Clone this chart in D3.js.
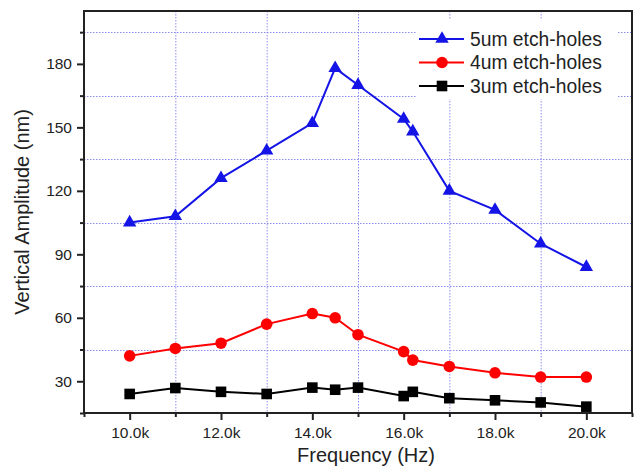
<!DOCTYPE html>
<html>
<head>
<meta charset="utf-8">
<script src="https://cdn.jsdelivr.net/npm/d3@7"></script>
<style>
  body { margin: 0; background: #fff; }
  text { font-family: "Liberation Sans", Arial, sans-serif; fill: #222; }
</style>
</head>
<body>
<div id="chart"></div>
<script>
// chart data
var freq = [10000, 11000, 12000, 13000, 14000, 14500, 15000, 16000, 16200, 17000, 18000, 19000, 20000];
var amp5 = [105, 108, 126, 139, 152, 178, 170, 154, 148, 120, 111, 95, 84];
var amp4 = [42, 45.5, 48, 57, 62, 60, 52, 44, 40, 37, 34, 32, 32];
var amp3 = [24, 26.8, 25, 24, 27, 26, 27, 23, 25, 22, 21, 20, 18];
var seriesNames = ["5um etch-holes", "4um etch-holes", "3um etch-holes"];
var xMajor = [10000, 12000, 14000, 16000, 18000, 20000];
var xMinor = [9000, 11000, 13000, 15000, 17000, 19000, 21000];
var yMajor = [30, 60, 90, 120, 150, 180];
var yMinor = [15, 45, 75, 105, 135, 165, 195];

// svg and margins
var svgWidth = 634;
var svgHeight = 470;
var margin = { top: 11, right: 2, bottom: 57, left: 84 };
var width = svgWidth - margin.left - margin.right;
var height = svgHeight - margin.top - margin.bottom;

var svg = d3.select("#chart")
  .append("svg")
  .attr("width", svgWidth)
  .attr("height", svgHeight);

var chartGroup = svg.append("g")
  .attr("transform", `translate(${margin.left}, ${margin.top})`);

// scales
var xScale = d3.scaleLinear().domain([9000, 21000]).range([0, width]);
var yScale = d3.scaleLinear().domain([15, 205]).range([height, 0]);

// dotted grid on the minor positions
chartGroup.selectAll(".vgrid")
  .data(xMinor.slice(1, -1))
  .enter().append("line")
  .attr("x1", d => xScale(d) + 0.5).attr("x2", d => xScale(d) + 0.5)
  .attr("y1", 0).attr("y2", height)
  .attr("stroke", "#8c8cf0")
  .attr("stroke-width", 1)
  .attr("stroke-dasharray", "1.5,1.5");

chartGroup.selectAll(".hgrid")
  .data(yMinor.slice(1))
  .enter().append("line")
  .attr("x1", 0).attr("x2", width)
  .attr("y1", d => Math.round(yScale(d)) + 0.5).attr("y2", d => Math.round(yScale(d)) + 0.5)
  .attr("stroke", "#8c8cf0")
  .attr("stroke-width", 1)
  .attr("stroke-dasharray", "1.5,1.5");

// axes
var bottomAxis = d3.axisBottom(xScale)
  .tickValues(xMajor)
  .tickSize(7)
  .tickSizeOuter(0)
  .tickPadding(7)
  .tickFormat(d => (d / 1000).toFixed(1) + "k");
var bottomMinor = d3.axisBottom(xScale).tickValues(xMinor).tickSize(4).tickSizeOuter(0).tickFormat("");
var leftAxis = d3.axisLeft(yScale)
  .tickValues(yMajor)
  .tickSize(7)
  .tickSizeOuter(0)
  .tickPadding(5);
var leftMinor = d3.axisLeft(yScale).tickValues(yMinor).tickSize(4).tickSizeOuter(0).tickFormat("");

[bottomAxis, bottomMinor].forEach(function(ax) {
  chartGroup.append("g")
    .attr("class", "axis")
    .attr("transform", `translate(0, ${height})`)
    .call(ax);
});
[leftAxis, leftMinor].forEach(function(ax) {
  chartGroup.append("g")
    .attr("class", "axis")
    .call(ax);
});
chartGroup.selectAll(".axis .domain").remove();
chartGroup.selectAll(".axis line").attr("stroke", "#222").attr("stroke-width", 2);
chartGroup.selectAll(".axis text")
  .attr("font-size", 15.5)
  .style("font-family", "'Liberation Sans', Arial, sans-serif")
  .attr("fill", "#333");

// frame
chartGroup.append("rect")
  .attr("x", 0).attr("y", 0)
  .attr("width", width).attr("height", height)
  .attr("fill", "none")
  .attr("stroke", "#222")
  .attr("stroke-width", 2);

// series
var series = [
  { name: seriesNames[0], values: amp5, color: "#1414e6", shape: "triangle" },
  { name: seriesNames[1], values: amp4, color: "#ff0000", shape: "circle" },
  { name: seriesNames[2], values: amp3, color: "#000000", shape: "square" }
];

var line = d3.line()
  .x(d => xScale(d[0]))
  .y(d => yScale(d[1]));

function drawMarker(g, shape, color, x, y) {
  if (shape === "triangle") {
    g.append("path")
      .attr("d", d3.symbol().type(d3.symbolTriangle).size(78)())
      .attr("transform", `translate(${x}, ${y})`)
      .attr("fill", color);
  } else if (shape === "circle") {
    g.append("circle")
      .attr("cx", x).attr("cy", y).attr("r", 5.8)
      .attr("fill", color);
  } else {
    g.append("rect")
      .attr("x", x - 5.3).attr("y", y - 5.3)
      .attr("width", 10.6).attr("height", 10.6)
      .attr("fill", color);
  }
}

series.forEach(function(s) {
  var pts = freq.map((f, i) => [f, s.values[i]]);
  chartGroup.append("path")
    .datum(pts)
    .attr("d", line)
    .attr("fill", "none")
    .attr("stroke", s.color)
    .attr("stroke-width", 2);
  var mg = chartGroup.append("g");
  pts.forEach(p => drawMarker(mg, s.shape, s.color, xScale(p[0]), yScale(p[1])));
});

// legend
var legend = svg.append("g");
legend.append("rect")
  .attr("x", 417).attr("y", 19)
  .attr("width", 200).attr("height", 80)
  .attr("fill", "#fff");
series.forEach(function(s, i) {
  var ly = 39 + i * 23.5;
  legend.append("line")
    .attr("x1", 419).attr("x2", 464)
    .attr("y1", ly).attr("y2", ly)
    .attr("stroke", s.color)
    .attr("stroke-width", 2);
  drawMarker(legend, s.shape, s.color, 442, ly);
  legend.append("text")
    .attr("x", 470).attr("y", ly)
    .attr("dy", "0.35em")
    .attr("font-size", 19.3)
    .text(s.name);
});

// axis titles
svg.append("text")
  .attr("transform", `translate(29, ${margin.top + height / 2}) rotate(-90)`)
  .attr("text-anchor", "middle")
  .attr("font-size", 20)
  .text("Vertical Amplitude (nm)");

svg.append("text")
  .attr("x", 366)
  .attr("y", 462)
  .attr("text-anchor", "middle")
  .attr("font-size", 20)
  .text("Frequency (Hz)");
</script>
</body>
</html>
